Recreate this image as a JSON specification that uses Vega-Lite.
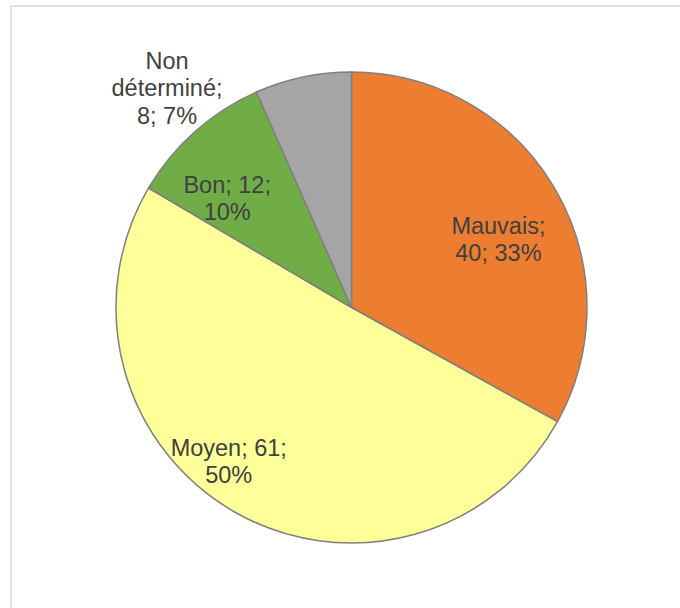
{
  "$schema": "https://vega.github.io/schema/vega-lite/v6.json",
  "width": 681,
  "height": 603,
  "autosize": {"type": "none"},
  "padding": {"left": 11, "top": 6, "right": 0, "bottom": 0},
  "background": "white",
  "view": {"stroke": "#d9d9d9", "strokeWidth": 1.5},
  "config": {
    "view": {"stroke": "#d9d9d9", "strokeWidth": 1.5},
    "text": {"font": "Liberation Sans"}
  },
  "data": {
    "values": [
      {"idx": 1, "category": "Mauvais", "value": 40, "label": "Mauvais;\n40; 33%"},
      {"idx": 2, "category": "Moyen", "value": 61, "label": "Moyen; 61;\n50%"},
      {"idx": 3, "category": "Bon", "value": 12, "label": "Bon; 12;\n10%"},
      {"idx": 4, "category": "Non déterminé", "value": 8, "label": "Non\ndéterminé;\n8; 7%"}
    ]
  },
  "encoding": {
    "theta": {"field": "value", "type": "quantitative", "stack": true},
    "order": {"field": "idx", "type": "quantitative"},
    "detail": {"field": "category", "type": "nominal"}
  },
  "layer": [
    {
      "mark": {"type": "arc", "outerRadius": 235.5, "stroke": "#7f7f7f", "strokeWidth": 1.5},
      "encoding": {
        "color": {
          "field": "category",
          "type": "nominal",
          "scale": {
            "domain": ["Mauvais", "Moyen", "Bon", "Non déterminé"],
            "range": ["#ED7D31", "#FFFF99", "#70AD47", "#A5A5A5"]
          },
          "legend": null
        }
      }
    },
    {
      "mark": {"type": "text", "radius": 167, "dx": 3, "dy": 4, "fontSize": 23.5, "lineHeight": 27, "lineBreak": "\n", "fill": "#404040", "align": "center", "baseline": "middle"},
      "encoding": {"text": {"condition": {"test": "datum.category === 'Mauvais'", "field": "label", "type": "nominal"}, "value": ""}}
    },
    {
      "mark": {"type": "text", "radius": 186.9, "dx": -30, "dy": -21, "fontSize": 23.5, "lineHeight": 27.5, "lineBreak": "\n", "fill": "#404040", "align": "center", "baseline": "middle"},
      "encoding": {"text": {"condition": {"test": "datum.category === 'Moyen'", "field": "label", "type": "nominal"}, "value": ""}}
    },
    {
      "mark": {"type": "text", "radius": 173.5, "dx": -9, "dy": 8.5, "fontSize": 23.5, "lineHeight": 27, "lineBreak": "\n", "fill": "#404040", "align": "center", "baseline": "middle"},
      "encoding": {"text": {"condition": {"test": "datum.category === 'Bon'", "field": "label", "type": "nominal"}, "value": ""}}
    },
    {
      "mark": {"type": "text", "radius": 240, "dx": -135, "dy": -10.6, "fontSize": 23.5, "lineHeight": 27.4, "lineBreak": "\n", "fill": "#404040", "align": "center", "baseline": "middle"},
      "encoding": {"text": {"condition": {"test": "datum.category === 'Non déterminé'", "field": "label", "type": "nominal"}, "value": ""}}
    }
  ]
}
